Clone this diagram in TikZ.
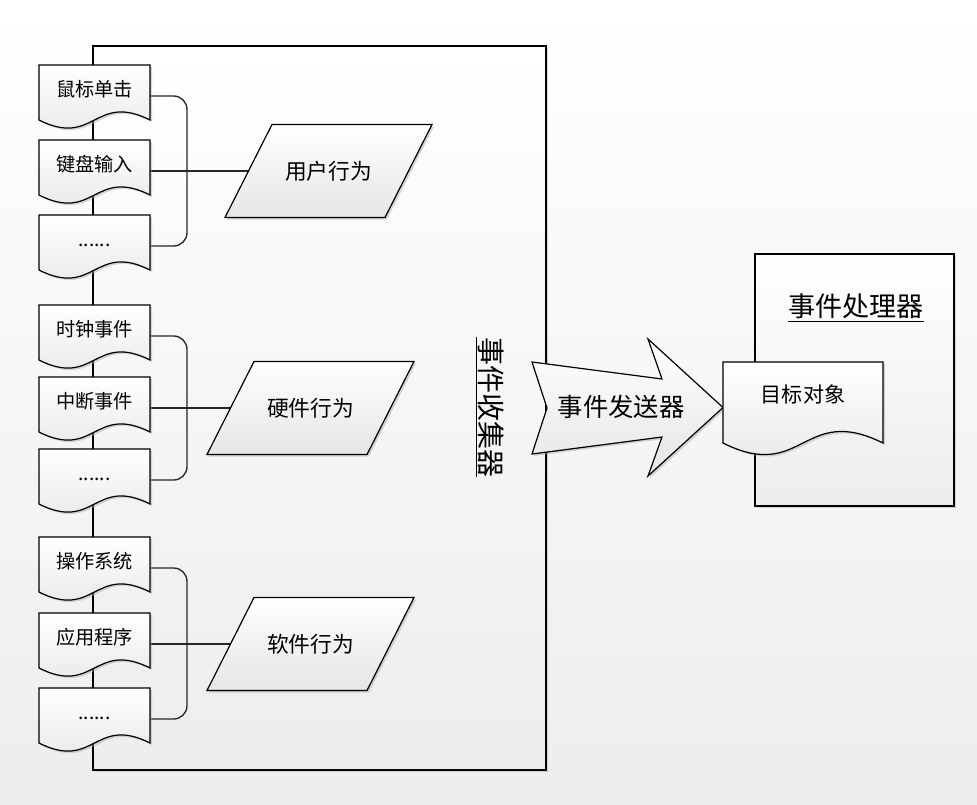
\documentclass[tikz,border=0pt]{standalone}
\usepackage{fontspec}
\newfontfamily\cjk{Noto Sans CJK SC}
\usetikzlibrary{calc}
\pgfdeclarelayer{bg}\pgfdeclarelayer{lines}\pgfdeclarelayer{shapes}
\pgfsetlayers{bg,lines,shapes,main}
\newcommand\lifttext[2]{\raisebox{\dimexpr#1-0.38em\relax}[0pt][0pt]{#2}}
\newcommand\docshape[3]{%
  \path[docline] (#1.north west) -- (#1.north east) -- ($(#1.south east)+(0,-#2)$)
    .. controls ($(#1.south)+(0,-#2-#3)$) and ($(#1.south)+(0,-#2+#3)$) .. ($(#1.south west)+(0,-#2)$) -- cycle;}
\newcommand\parashape[1]{%
  \path[docline] ($(#1.north west)+(23.5,0)$) -- ($(#1.north east)+(23.5,0)$) -- ($(#1.south east)+(-23.5,0)$) -- ($(#1.south west)+(-23.5,0)$) -- cycle;}
\tikzset{
  x=0.75pt, y=-0.75pt,
  grad/.style={top color=white, bottom color=black!10},
  shadowed/.style={preaction={fill=black!35, opacity=0.45, transform canvas={xshift=1.5pt, yshift=-1.5pt}}},
  docline/.style={draw=black, line width=0.9pt, grad, shadowed},
  boxnode/.style={draw=black, line width=0.9pt, top color=white, bottom color=black!7, shadowed, inner sep=0pt, outer sep=0pt},
  docnode/.style={minimum width=83.25pt, minimum height=46.5pt, inner sep=0pt, outer sep=0pt, font=\cjk\fontsize{14.4}{16}\selectfont},
  paranode/.style={minimum width=120pt, minimum height=69.75pt, inner sep=0pt, outer sep=0pt, font=\cjk\fontsize{16.3}{18}\selectfont},
  conn/.style={draw=black!85, line width=1pt},
  bracket/.style={conn, rounded corners=10pt},
}
\begin{document}
\begin{tikzpicture}
\useasboundingbox (0,0) rectangle (977,804);
\begin{pgfonlayer}{bg}
  \fill[top color=white, bottom color=black!7] (0,0) rectangle (977,804);
\end{pgfonlayer}
\begin{pgfonlayer}{lines}
  \node[boxnode, minimum width=339.75pt, minimum height=543pt] (collector) at (319.5,408) {};
  \node[boxnode, minimum width=149.25pt, minimum height=189pt] (handler) at (854.5,380) {};
  \node[rotate=-90, font=\cjk\fontsize{21}{22}\selectfont] (ctitle) at (490,407) {\underline{事件收集器}};
\end{pgfonlayer}
% documents
\node[docnode] (d11) at (94.5,96)  {\lifttext{5.25pt}{鼠标单击}};
\node[docnode] (d12) at (94.5,171) {\lifttext{5.25pt}{键盘输入}};
\node[docnode] (d13) at (94.5,246) {\lifttext{5.25pt}{......}};
\node[docnode] (d21) at (94.5,336) {\lifttext{5.25pt}{时钟事件}};
\node[docnode] (d22) at (94.5,408) {\lifttext{5.25pt}{中断事件}};
\node[docnode] (d23) at (94.5,480) {\lifttext{5.25pt}{......}};
\node[docnode] (d31) at (94.5,568) {\lifttext{5.25pt}{操作系统}};
\node[docnode] (d32) at (94.5,644) {\lifttext{5.25pt}{应用程序}};
\node[docnode] (d33) at (94.5,719) {\lifttext{5.25pt}{......}};
% parallelograms
\node[paranode] (p1) at (328.5,171) {用户行为};
\node[paranode] (p2) at (310.5,408) {硬件行为};
\node[paranode] (p3) at (310.5,644) {软件行为};
% target document and titles
\node[docnode, minimum width=120pt, minimum height=68.25pt, font=\cjk\fontsize{15.8}{17}\selectfont] (tgt) at (803,407.5) {\lifttext{9.4pt}{目标对象}};
\node[font=\cjk\fontsize{19}{20}\selectfont] (send) at (621,407) {事件发送器};
\node[font=\cjk\fontsize{20.3}{21}\selectfont] (htitle) at (856,308) {\underline{事件处理器}};
\begin{pgfonlayer}{shapes}
  \foreach \n in {d11,d12,d13,d21,d22,d23,d31,d32,d33}{\docshape{\n}{7}{28}}
  \foreach \n in {p1,p2,p3}{\parashape{\n}}
  \path[docline] (532,362) -- (662,379) -- (648,339) -- (tgt.west) -- (648,476) -- (662,437) -- (532,454) -- (547,408) -- cycle;
  \docshape{tgt}{10}{40}
\end{pgfonlayer}
\begin{pgfonlayer}{lines}
  \coordinate (bx) at (187,0);
  \draw[bracket] (d11.east) -- (d11.east -| bx) -- (d13.east -| bx) -- (d13.east);
  \draw[bracket] (d21.east) -- (d21.east -| bx) -- (d23.east -| bx) -- (d23.east);
  \draw[bracket] (d31.east) -- (d31.east -| bx) -- (d33.east -| bx) -- (d33.east);
  \draw[conn] (d12.east) -- (p1.west);
  \draw[conn] (d22.east) -- (p2.west);
  \draw[conn] (d32.east) -- (p3.west);
\end{pgfonlayer}
\end{tikzpicture}
\end{document}
